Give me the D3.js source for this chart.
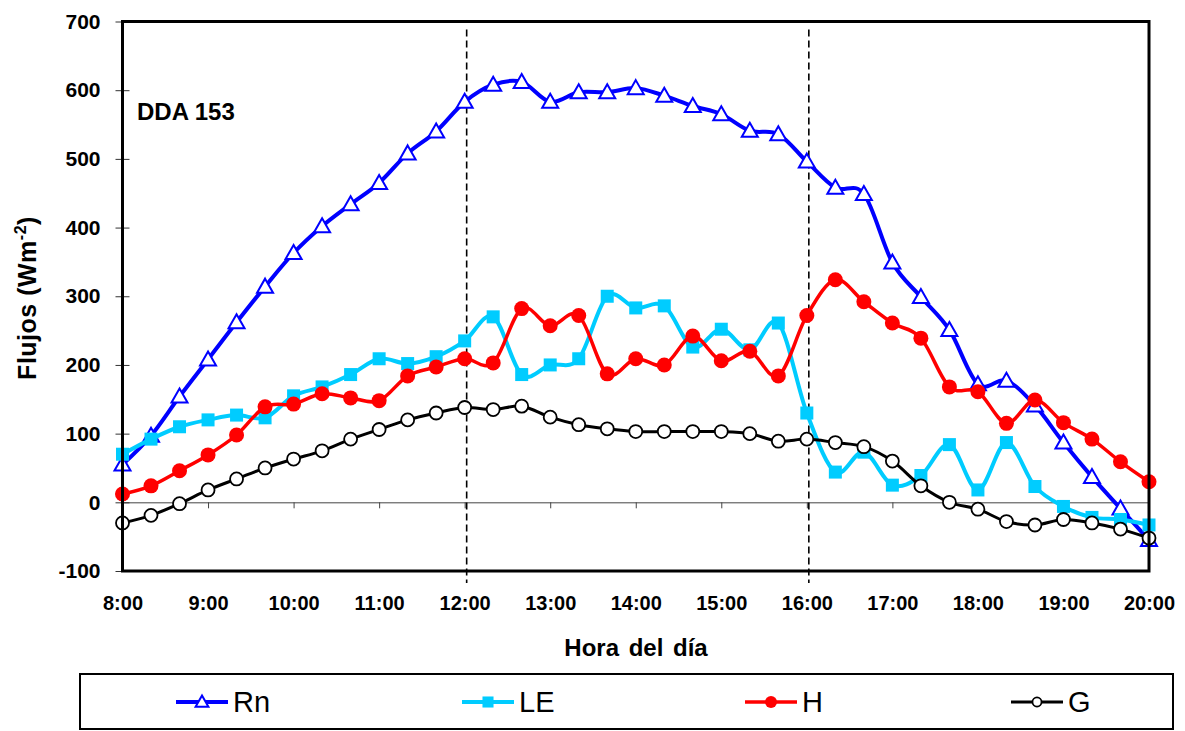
<!DOCTYPE html>
<html>
<head>
<meta charset="utf-8">
<script src="https://cdn.jsdelivr.net/npm/d3@7"></script>
<style>
  body { margin: 0; background: #fff; }
  svg { display: block; }
  text { font-family: "Liberation Sans", Arial, Helvetica, sans-serif; fill: #000; }
</style>
</head>
<body>
<svg id="chart" width="1185" height="731"></svg>
<script>
// Sampling times (every 20 minutes)
const times = ["8:00","8:20","8:40","9:00","9:20","9:40","10:00","10:20","10:40",
  "11:00","11:20","11:40","12:00","12:20","12:40","13:00","13:20","13:40",
  "14:00","14:20","14:40","15:00","15:20","15:40","16:00","16:20","16:40",
  "17:00","17:20","17:40","18:00","18:20","18:40","19:00","19:20","19:40","20:00"];

// Energy balance fluxes (W m-2)
const rn = [55, 97, 154, 208, 262, 314, 363, 402, 434, 465, 508, 540, 583, 608, 612, 583,
  597, 597, 603, 592, 577, 565, 541, 536, 496, 458, 449, 349, 299, 251, 172, 177,
  141, 87, 37, -9, -55];
const le = [70, 92, 110, 120, 127, 123, 155, 168, 186, 209, 202, 212, 235, 270, 186, 200,
  209, 300, 283, 286, 226, 252, 222, 261, 130, 44, 73, 25, 39, 84, 18, 87,
  23, -6, -22, -25, -33];
const h = [12, 24, 46, 69, 98, 139, 143, 158, 152, 148, 184, 197, 209, 203, 282, 257,
  272, 187, 209, 200, 242, 206, 220, 184, 272, 324, 292, 261, 239, 168, 161, 115,
  149, 116, 92, 59, 30];
const g = [-30, -19, -2, 18, 34, 50, 63, 75, 92, 106, 120, 130, 138, 135, 140, 124,
  113, 107, 103, 103, 103, 103, 100, 89, 92, 87, 81, 60, 24, 0, -10, -28,
  -33, -25, -30, -39, -52];

// Axis ticks
const yTicks = [-100, 0, 100, 200, 300, 400, 500, 600, 700];
const xTickLabels = ["8:00","9:00","10:00","11:00","12:00","13:00","14:00",
  "15:00","16:00","17:00","18:00","19:00","20:00"];
const markTimes = ["12:00", "16:00"];

const seriesNames = ["Rn", "LE", "H", "G"];

const toHours = s => { const [hh, mm] = s.split(":").map(Number); return hh + mm / 60; };

const svg = d3.select("#chart");
const W = 1185, H = 731;
const plot = { left: 122.5, right: 1149, top: 21.5, bottom: 571 };

const x = d3.scaleLinear().domain([8, 20]).range([plot.left, plot.right]);
const y = d3.scaleLinear().domain([-100, 700]).range([plot.bottom, plot.top]);

svg.append("rect").attr("width", W).attr("height", H).attr("fill", "#fff");

// Zero line with hour ticks
const zeroAxis = d3.axisBottom(x)
  .tickValues(xTickLabels.slice(1, -1).map(toHours))
  .tickSize(6).tickFormat("");
svg.append("g")
  .attr("transform", `translate(0,${y(0)})`)
  .call(zeroAxis)
  .call(s => s.select(".domain").attr("stroke", "#444").attr("stroke-width", 1))
  .call(s => s.selectAll(".tick line").attr("stroke", "#444").attr("stroke-width", 1));

// Tick labels along the bottom
const xLabelAxis = d3.axisBottom(x)
  .tickValues(xTickLabels.map(toHours))
  .tickSize(0).tickPadding(0)
  .tickFormat((d, i) => xTickLabels[i]);
svg.append("g")
  .attr("transform", `translate(0,${plot.bottom + 25})`)
  .call(xLabelAxis)
  .call(s => s.select(".domain").remove())
  .call(s => s.selectAll("text")
    .attr("font-family", "'Liberation Sans', Arial, sans-serif")
    .attr("font-size", 20).attr("font-weight", "bold").attr("fill", "#000"));

// Left axis: crossing ticks and labels (plain hyphen for negatives)
const yAxis = d3.axisLeft(y).tickValues(yTicks).tickSize(7).tickPadding(15)
  .tickFormat(d => String(d));
svg.append("g")
  .attr("transform", `translate(${plot.left},0)`)
  .call(yAxis)
  .call(s => s.select(".domain").remove())
  .call(s => s.selectAll(".tick line").attr("x2", 7).attr("x1", -7).attr("stroke", "#333"))
  .call(s => s.selectAll("text")
    .attr("font-family", "'Liberation Sans', Arial, sans-serif")
    .attr("font-size", 21).attr("font-weight", "bold").attr("fill", "#000"));

// Dashed reference lines at 12:00 and 16:00
svg.append("g").selectAll("line").data(markTimes).join("line")
  .attr("x1", d => x(toHours(d)) + 2).attr("x2", d => x(toHours(d)) + 2)
  .attr("y1", plot.top + 8).attr("y2", plot.bottom + 12)
  .attr("stroke", "#000").attr("stroke-width", 1.6)
  .attr("stroke-dasharray", "7,4");

// Series
const xs = times.map(toHours);
const curve = d3.curveCardinal.tension(0);
const line = d3.line().x((d, i) => x(xs[i])).y(d => y(d)).curve(curve);

const series = [
  { name: "Rn", values: rn, color: "#0000FF", width: 4, marker: "triangle" },
  { name: "LE", values: le, color: "#00CCFF", width: 4, marker: "square" },
  { name: "H",  values: h,  color: "#FF0000", width: 3.5, marker: "dot" },
  { name: "G",  values: g,  color: "#000000", width: 3, marker: "ring" }
];

function drawMarker(sel, kind, color, scale) {
  const k = scale || 1;
  if (kind === "triangle") {
    const s = 8 * k;
    sel.append("path")
      .attr("d", `M0,${-s}L${s},${s * 0.75}L${-s},${s * 0.75}Z`)
      .attr("fill", "#fff").attr("stroke", color).attr("stroke-width", 2);
  } else if (kind === "square") {
    const s = 6.5 * k;
    sel.append("rect").attr("x", -s).attr("y", -s).attr("width", 2 * s).attr("height", 2 * s)
      .attr("fill", color);
  } else if (kind === "dot") {
    sel.append("circle").attr("r", 7.5 * k).attr("fill", color);
  } else {
    sel.append("circle").attr("r", 6.5 * k).attr("fill", "#fff")
      .attr("stroke", color).attr("stroke-width", 1.8);
  }
}

series.forEach(s => {
  const gS = svg.append("g");
  gS.append("path").attr("d", line(s.values))
    .attr("fill", "none").attr("stroke", s.color).attr("stroke-width", s.width)
    .attr("stroke-linejoin", "round");
  gS.selectAll("g.m").data(s.values).join("g").attr("class", "m")
    .attr("transform", (d, i) => `translate(${x(xs[i])},${y(d)})`)
    .each(function () { drawMarker(d3.select(this), s.marker, s.color); });
});

// Plot frame
svg.append("rect")
  .attr("x", plot.left).attr("y", plot.top)
  .attr("width", plot.right - plot.left).attr("height", plot.bottom - plot.top)
  .attr("fill", "none").attr("stroke", "#000").attr("stroke-width", 3);

// Labels
svg.append("text").attr("x", 137).attr("y", 120)
  .attr("font-size", 24).attr("font-weight", "bold").text("DDA 153");

svg.append("text").attr("x", 636).attr("y", 656).attr("text-anchor", "middle")
  .attr("font-size", 24).attr("font-weight", "bold").attr("word-spacing", 3)
  .text("Hora del día");

const yTitle = svg.append("text")
  .attr("transform", "translate(36,298) rotate(-90)")
  .attr("text-anchor", "middle").attr("font-size", 25).attr("font-weight", "bold")
  .attr("letter-spacing", 0.5);
yTitle.append("tspan").text("Flujos (Wm");
yTitle.append("tspan").attr("font-size", 16).attr("dy", -10).text("-2");
yTitle.append("tspan").attr("dy", 10).text(")");

// Legend
svg.append("rect").attr("x", 80).attr("y", 674).attr("width", 1093).attr("height", 55)
  .attr("fill", "#fff").attr("stroke", "#000").attr("stroke-width", 2);

const legendX = [176, 462, 745, 1011];
const legendY = 702;
const legendMarkerScale = { triangle: 0.8, square: 0.85, dot: 0.8, ring: 0.7 };
series.forEach((s, i) => {
  const lg = svg.append("g").attr("transform", `translate(${legendX[i]},${legendY})`);
  lg.append("line").attr("x1", 0).attr("x2", 52).attr("stroke", s.color).attr("stroke-width", s.width);
  const m = lg.append("g").attr("transform", "translate(26,0)");
  drawMarker(m, s.marker, s.color, legendMarkerScale[s.marker]);
  lg.append("text").attr("x", 57).attr("y", 10).attr("font-size", 29).text(seriesNames[i]);
});
</script>
</body>
</html>
